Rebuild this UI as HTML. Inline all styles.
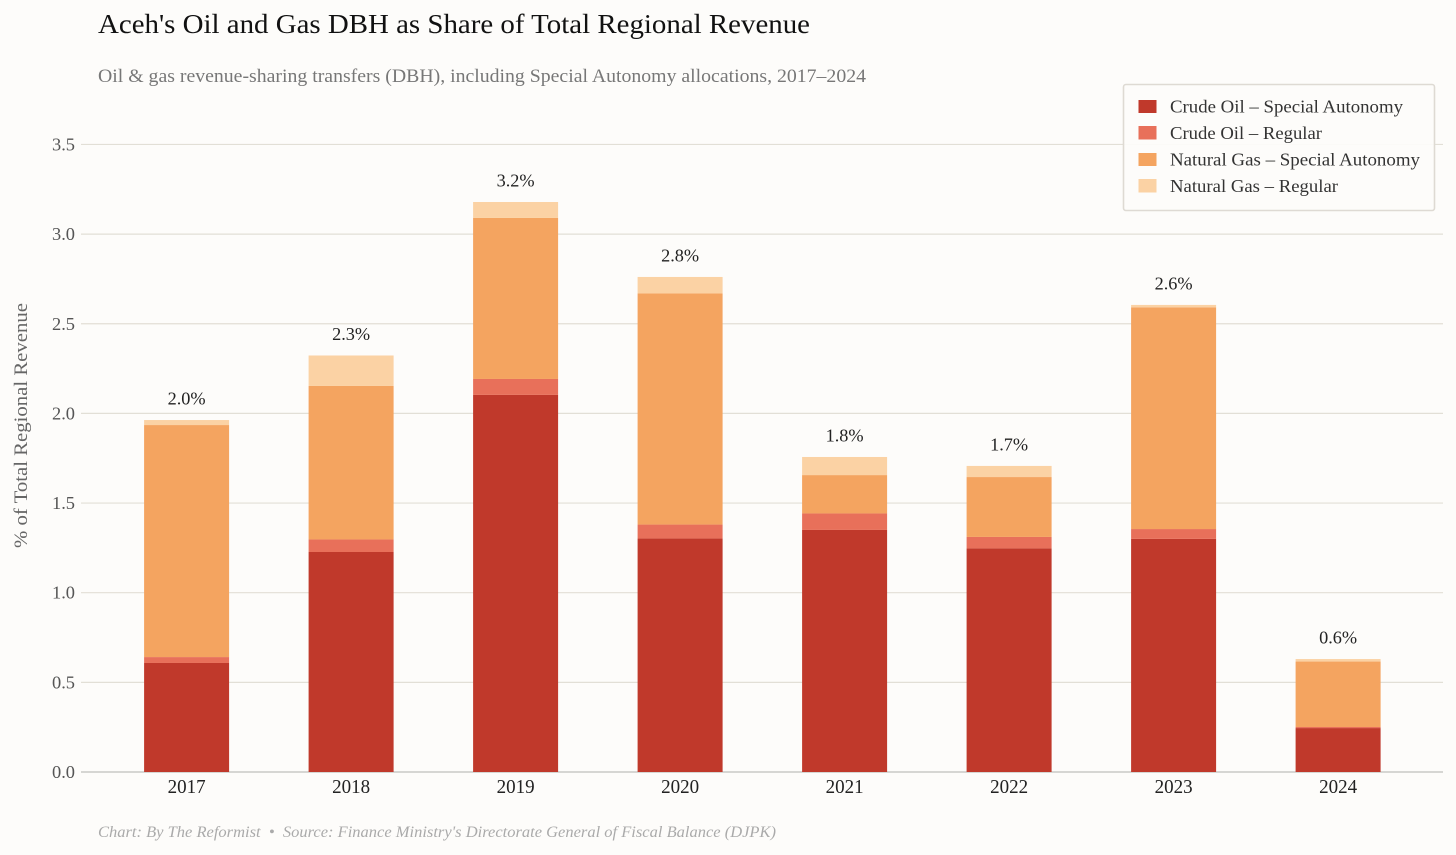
<!DOCTYPE html>
<html lang="en">
<head>
<meta charset="utf-8">
<title>Aceh's Oil and Gas DBH as Share of Total Regional Revenue</title>
<style>
html,body{margin:0;padding:0;background:#fdfcfa;}
svg{display:block;font-family:"Liberation Serif",serif;}
</style>
</head>
<body>
<svg id="chart" xmlns="http://www.w3.org/2000/svg" width="1456" height="855" viewBox="0 0 1456 855">
  <rect x="0" y="0" width="1456" height="855" fill="#fdfcfa"/>
  <text x="98" y="33" font-size="27.5" fill="#111" textLength="712" lengthAdjust="spacingAndGlyphs">Aceh's Oil and Gas DBH as Share of Total Regional Revenue</text>
  <text x="98" y="82" font-size="18.5" fill="#777" textLength="768" lengthAdjust="spacingAndGlyphs">Oil &amp; gas revenue-sharing transfers (DBH), including Special Autonomy allocations, 2017–2024</text>
  <text transform="translate(27,425.5) rotate(-90)" text-anchor="middle" font-size="18.5" fill="#666" textLength="245" lengthAdjust="spacingAndGlyphs">% of Total Regional Revenue</text>
  <g id="grid"></g>
  <g id="bars"></g>
  <g id="labels"></g>
  <g id="xticks"></g>
  <g>
    <rect x="1123.5" y="84.5" width="311" height="126" rx="2.5" fill="#fdfcfa" fill-opacity="0.93" stroke="#dedad3" stroke-width="1.6"/>
    <rect x="1138.5" y="100" width="18" height="13" fill="#c0392b"/>
    <text x="1170" y="112.5" font-size="18" fill="#333" textLength="233" lengthAdjust="spacingAndGlyphs">Crude Oil – Special Autonomy</text>
    <rect x="1138.5" y="126" width="18" height="13.5" fill="#e8705a"/>
    <text x="1170" y="139" font-size="18" fill="#333" textLength="152" lengthAdjust="spacingAndGlyphs">Crude Oil – Regular</text>
    <rect x="1138.5" y="153" width="18" height="13" fill="#f4a460"/>
    <text x="1170" y="165.5" font-size="18" fill="#333" textLength="250" lengthAdjust="spacingAndGlyphs">Natural Gas – Special Autonomy</text>
    <rect x="1138.5" y="179" width="18" height="13.5" fill="#fbd2a4"/>
    <text x="1170" y="192" font-size="18" fill="#333" textLength="168" lengthAdjust="spacingAndGlyphs">Natural Gas – Regular</text>
  </g>
  <text x="98" y="837" font-size="15.5" font-style="italic" fill="#aaa" textLength="678" lengthAdjust="spacingAndGlyphs">Chart: By The Reformist&#160;&#160;•&#160;&#160;Source: Finance Ministry's Directorate General of Fiscal Balance (DJPK)</text>
</svg>
<script>
const years = ['2017','2018','2019','2020','2021','2022','2023','2024'];
const crudeOilSpecial = [0.608,1.227,2.103,1.302,1.350,1.247,1.300,0.245];
const crudeOilRegular = [0.033,0.070,0.089,0.078,0.092,0.064,0.055,0.006];
const naturalGasSpecial = [1.294,0.856,0.898,1.289,0.214,0.334,1.236,0.365];
const naturalGasRegular = [0.028,0.170,0.089,0.092,0.101,0.062,0.014,0.014];
const totalLabels = ['2.0%','2.3%','3.2%','2.8%','1.8%','1.7%','2.6%','0.6%'];
const yTicks = ['0.0','0.5','1.0','1.5','2.0','2.5','3.0','3.5'];
const seriesNames = ['crude-oil-special','crude-oil-regular','natural-gas-special','natural-gas-regular'];
const seriesValues = [crudeOilSpecial,crudeOilRegular,naturalGasSpecial,naturalGasRegular];
const seriesColors = ['#c0392b','#e8705a','#f4a460','#fbd2a4'];

const NS = 'http://www.w3.org/2000/svg';
const plotLeft = 81, plotRight = 1443, zeroY = 772, unitPx = 179.3;
const firstCenter = 186.6, stepX = 164.5, barWidth = 85;
function yScale(v){ return zeroY - v * unitPx; }
function xScale(i){ return firstCenter + i * stepX; }
function make(tag, attrs, text){
  const el = document.createElementNS(NS, tag);
  for (const k in attrs) el.setAttribute(k, attrs[k]);
  if (text !== undefined) el.textContent = text;
  return el;
}

const grid = document.getElementById('grid');
yTicks.forEach(function(t){
  const v = parseFloat(t);
  const y = yScale(v);
  const line = make('line', {x1:plotLeft, x2:plotRight, y1:y, y2:y, stroke: v === 0 ? '#c9c9c6' : '#e2dfd6', 'stroke-width': v === 0 ? 1.6 : 1.2});
  
  
  grid.appendChild(line);
  const label = make('text', {x:75, y:y+6, 'text-anchor':'end', 'font-size':17.5, fill:'#555', textLength:23, lengthAdjust:'spacingAndGlyphs'}, t);
  
  
  grid.appendChild(label);
});

const barsGroup = document.getElementById('bars');
const labelsGroup = document.getElementById('labels');
const xticksGroup = document.getElementById('xticks');
years.forEach(function(year, i){
  let cum = 0;
  seriesValues.forEach(function(vals, s){
    const y1 = yScale(cum);
    cum += vals[i];
    const y2 = yScale(cum);
    const r = make('rect', {x:xScale(i)-barWidth/2, y:y2, width:barWidth, height:y1-y2, fill:seriesColors[s]});
    
    
    barsGroup.appendChild(r);
  });
  const total = make('text', {x:xScale(i), y:yScale(cum)-15.5, 'text-anchor':'middle', 'font-size':17.5, fill:'#222', textLength:38, lengthAdjust:'spacingAndGlyphs'}, totalLabels[i]);
  
  
  labelsGroup.appendChild(total);
  const tick = make('text', {x:xScale(i), y:793, 'text-anchor':'middle', 'font-size':20, fill:'#222', textLength:38, lengthAdjust:'spacingAndGlyphs'}, year);
  
  
  xticksGroup.appendChild(tick);
});
</script>
</body>
</html>
